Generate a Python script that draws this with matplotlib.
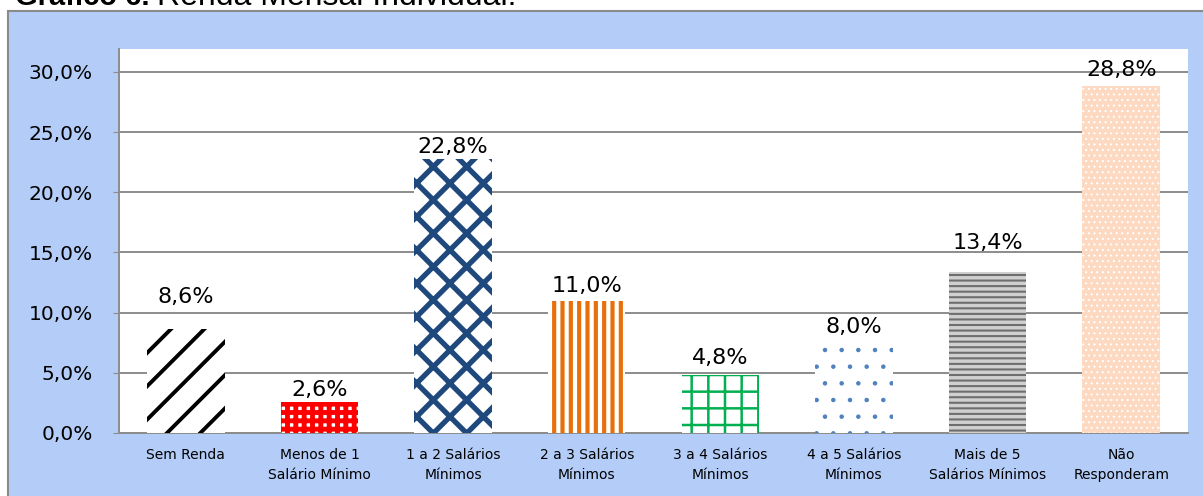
import matplotlib
matplotlib.use("Agg")
import matplotlib.pyplot as plt
from matplotlib.patches import Rectangle
from matplotlib.ticker import FuncFormatter, MultipleLocator

# --- Dados ---
categorias = ["Sem Renda", "Menos de 1\nSalário Mínimo", "1 a 2 Salários\nMínimos",
              "2 a 3 Salários\nMínimos", "3 a 4 Salários\nMínimos", "4 a 5 Salários\nMínimos",
              "Mais de 5\nSalários Mínimos", "Não\nResponderam"]
percentuais = [8.6, 2.6, 22.8, 11.0, 4.8, 8.0, 13.4, 28.8]
rotulos = ["8,6%", "2,6%", "22,8%", "11,0%", "4,8%", "8,0%", "13,4%", "28,8%"]

# --- Estilo das barras (fundo, cor da trama, trama, espessura da trama) ---
estilos = [
    ("white", "black", "/", 2.8),
    ("white", "#ff0000", "++", 3.5),
    ("white", "#1f497d", "x", 3.8),
    ("white", "#e8700a", "||", 3.0),
    ("white", "#00b050", "+", 1.8),
    ("white", "#4f81bd", ".", 0.8),
    ("#d0d0d0", "#6e6e6e", "---", 1.5),
    ("#fcd9c0", "white", "...", 0.8),
]
# distância (px) entre topo da barra e o rótulo
deslocamentos = [22, 2, 2, 5, 7, 0, 19, 6]

fig = plt.figure(figsize=(12.03, 4.96), dpi=100)
fig.patch.set_facecolor("white")

# painel azul do gráfico
painel = Rectangle((8 / 1203, -0.1), 1.2, 0.978 + 0.1, transform=fig.transFigure,
                   facecolor="#b4cdf8", edgecolor="#8a8a8a", lw=1.5, zorder=0)
fig.add_artist(painel)

# título (cortado no topo, como no original)
fig.text(15 / 1203, 1 - 5 / 496, "Gráfico 6.", fontsize=21, fontweight="bold",
         family="Liberation Sans", va="baseline", ha="left")
fig.text(157 / 1203, 1 - 5 / 496, "Renda Mensal Individual.", fontsize=23,
         family="Liberation Sans", va="baseline", ha="left")

ax = fig.add_axes([119 / 1203, 1 - 433 / 496, (1188 - 119) / 1203, (433 - 49) / 496])
ax.set_facecolor("white")

x = list(range(len(categorias)))
for i, (fc, hc, hatch, hlw) in enumerate(estilos):
    with plt.rc_context({"hatch.linewidth": hlw}):
        b = ax.bar(x[i], percentuais[i], width=0.58, facecolor=fc, edgecolor=hc,
                   hatch=hatch, linewidth=0, zorder=3)
    for p in b.patches:
        try:
            p.set_hatch_linewidth(hlw)
        except AttributeError:
            pass
    ax.annotate(rotulos[i], (x[i], percentuais[i]), xytext=(0, deslocamentos[i] * 0.72),
                textcoords="offset points", ha="center", va="bottom", fontsize=16, zorder=5)

ax.set_xlim(-0.5, len(categorias) - 0.5)
ax.set_ylim(0, 31.9)
ax.yaxis.set_major_locator(MultipleLocator(5))
ax.yaxis.set_major_formatter(FuncFormatter(lambda v, _: f"{v:.1f}%".replace(".", ",")))
ax.grid(axis="y", color="#8c8c8c", lw=1.4, zorder=1)
ax.set_xticks(x)
ax.set_xticklabels(categorias, fontsize=10, linespacing=1.5)
ax.tick_params(axis="x", length=0, pad=11)
ax.tick_params(axis="y", labelsize=14.5, length=4, color="#8c8c8c", pad=15)

for s in ["top", "right"]:
    ax.spines[s].set_visible(False)
ax.spines["left"].set_color("#8c8c8c")
ax.spines["bottom"].set_color("#8c8c8c")
ax.spines["left"].set_linewidth(1.4)
ax.spines["bottom"].set_linewidth(1.4)

fig.savefig("out.png", dpi=100)
